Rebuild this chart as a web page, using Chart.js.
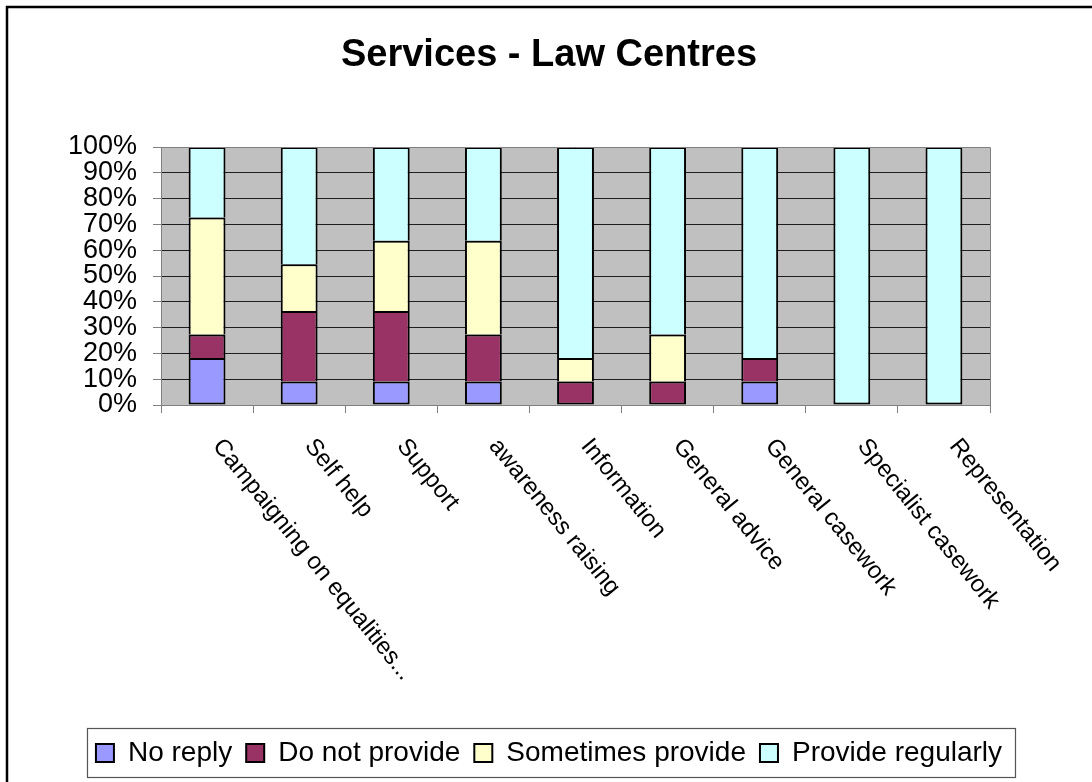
<!DOCTYPE html>
<html>
<head>
<meta charset="utf-8">
<title>Services - Law Centres</title>
<script src="https://cdn.jsdelivr.net/npm/chart.js@4.4.1/dist/chart.umd.min.js"></script>
<style>
  html, body { margin: 0; padding: 0; background: #ffffff; }
  #wrap { width: 1092px; height: 782px; }
</style>
</head>
<body>
<div id="wrap"><canvas id="chart" width="1092" height="782"></canvas></div>
<script>
// Service categories along the x axis
const categories = [
  'Campaigning on equalities...',
  'Self help',
  'Support',
  'awareness raising',
  'Information',
  'General advice',
  'General casework',
  'Specialist casework',
  'Representation'
];

// Share of Law Centres giving each answer (percent of replies)
const noReply          = [18.2,  9.1,  9.1,  9.1,  0.0,  0.0,  9.1,   0,   0];
const doNotProvide     = [ 9.1, 27.3, 27.3, 18.2,  9.1,  9.1,  9.1,   0,   0];
const sometimesProvide = [45.4, 18.2, 27.3, 36.4,  9.1, 18.2,  0.0,   0,   0];
const provideRegularly = [27.3, 45.4, 36.3, 36.3, 81.8, 72.7, 81.8, 100, 100];

const seriesNames = ['No reply', 'Do not provide', 'Sometimes provide', 'Provide regularly'];
const yTickValues = [0, 10, 20, 30, 40, 50, 60, 70, 80, 90, 100];

const FONT = "'Liberation Sans', Arial, Helvetica, sans-serif";

// Grey plot background and white page
const backdrop = {
  id: 'backdrop',
  beforeDraw(chart) {
    const { ctx, chartArea: a } = chart;
    ctx.save();
    ctx.fillStyle = '#ffffff';
    ctx.fillRect(0, 0, chart.width, chart.height);
    ctx.fillStyle = '#c0c0c0';
    ctx.fillRect(a.left, a.top, a.right - a.left, a.bottom - a.top);
    ctx.restore();
  }
};

// Frame, plot edges, legend box and slanted category labels
const decorations = {
  id: 'decorations',
  afterDraw(chart) {
    const { ctx, chartArea: a } = chart;
    ctx.save();

    // outer chart frame
    ctx.strokeStyle = '#000000';
    ctx.lineWidth = 2.5;
    ctx.strokeRect(7, 7, chart.width + 40, chart.height + 40);

    // plot area top and right edges
    ctx.strokeStyle = '#808080';
    ctx.lineWidth = 1;
    ctx.beginPath();
    ctx.moveTo(a.left, a.top + 0.5);
    ctx.lineTo(a.right + 0.5, a.top + 0.5);
    ctx.lineTo(a.right + 0.5, a.bottom);
    ctx.stroke();

    // legend border
    const lg = chart.legend;
    if (lg && lg.legendHitBoxes && lg.legendHitBoxes.length) {
      const hb = lg.legendHitBoxes;
      const first = hb[0], last = hb[hb.length - 1];
      const left = Math.round(first.left - 9) + 0.5;
      const right = Math.round(last.left + last.width + 13) + 0.5;
      const top = Math.round(lg.top + 3) + 0.5;
      const bottom = Math.round(lg.bottom) + 0.5;
      ctx.strokeStyle = '#555555';
      ctx.lineWidth = 1.2;
      ctx.strokeRect(left, top, right - left, bottom - top);
    }

    // category labels, slanted downwards
    const xs = chart.scales.x;
    ctx.fillStyle = '#000000';
    ctx.font = '24px ' + FONT;
    ctx.textAlign = 'left';
    ctx.textBaseline = 'middle';
    categories.forEach((label, i) => {
      const px = xs.getPixelForValue(i);
      ctx.save();
      ctx.translate(px + 10, a.bottom + 37);
      ctx.rotate(51 * Math.PI / 180);
      ctx.fillText(label, 0, 0);
      ctx.restore();
    });

    ctx.restore();
  }
};

const colours = ['#9999ff', '#993366', '#ffffcc', '#ccffff'];
const seriesData = [noReply, doNotProvide, sometimesProvide, provideRegularly];

// Each segment carries a 2px outline; the shared edge between stacked
// segments comes from the upper edge of the lower segment only.
function segmentBorder(c) {
  const v = c.raw;
  if (!v) return 0;
  let lowest = true;
  for (let k = 0; k < c.datasetIndex; k++) {
    if (seriesData[k][c.dataIndex] > 0) lowest = false;
  }
  return { top: 2, left: 2, right: 2, bottom: lowest ? 2 : 0 };
}

const datasets = seriesNames.map((name, i) => ({
  label: name,
  data: seriesData[i],
  backgroundColor: colours[i],
  borderColor: '#000000',
  borderWidth: segmentBorder,
  borderSkipped: false,
  barPercentage: 0.4,
  categoryPercentage: 1.0
}));

new Chart(document.getElementById('chart'), {
  type: 'bar',
  data: { labels: categories, datasets },
  options: {
    responsive: false,
    animation: false,
    devicePixelRatio: 1,
    layout: { padding: { left: 6, right: 0, top: 0, bottom: 5 } },
    plugins: {
      tooltip: { enabled: false },
      title: {
        display: true,
        text: 'Services - Law Centres',
        color: '#000000',
        font: { family: FONT, size: 38, weight: 'bold', lineHeight: 1.2 },
        padding: { top: 33, bottom: 68.4 }
      },
      legend: {
        display: true,
        position: 'bottom',
        labels: {
          color: '#000000',
          font: { family: FONT, size: 28 },
          boxWidth: 18,
          boxHeight: 18,
          padding: 14,
          generateLabels(chart) {
            return chart.data.datasets.map((ds, i) => ({
              text: ds.label,
              fillStyle: ds.backgroundColor,
              strokeStyle: '#000000',
              lineWidth: 2,
              hidden: false,
              datasetIndex: i,
              fontColor: '#000000'
            }));
          }
        }
      }
    },
    scales: {
      x: {
        stacked: true,
        offset: true,
        grid: {
          display: true,
          offset: true,
          drawOnChartArea: false,
          drawTicks: true,
          tickLength: 8,
          color: '#808080'
        },
        border: { display: true, color: '#808080', width: 1 },
        ticks: { display: false },
        afterFit(scale) { scale.height = 320; }
      },
      y: {
        stacked: true,
        min: 0,
        max: 100,
        afterBuildTicks(scale) { scale.ticks = yTickValues.map(v => ({ value: v })); },
        grid: {
          color: (c) => (c.tick && (c.tick.value === 100 || c.tick.value === 0)) ? '#808080' : '#1e1e1e',
          tickColor: '#808080',
          tickLength: 8,
          lineWidth: 1
        },
        border: { display: true, color: '#808080', width: 1 },
        ticks: {
          color: '#000000',
          font: { family: FONT, size: 27, lineHeight: 1.0 },
          padding: 16,
          autoSkip: false,
          callback: (v) => v + '%'
        },
        afterFit(scale) { scale.width = 155; }
      },
      yRight: {
        type: 'linear',
        position: 'right',
        display: true,
        grid: { display: false },
        border: { display: false },
        ticks: { display: false },
        afterFit(scale) { scale.width = 102; }
      }
    }
  },
  plugins: [backdrop, decorations]
});
</script>
</body>
</html>
